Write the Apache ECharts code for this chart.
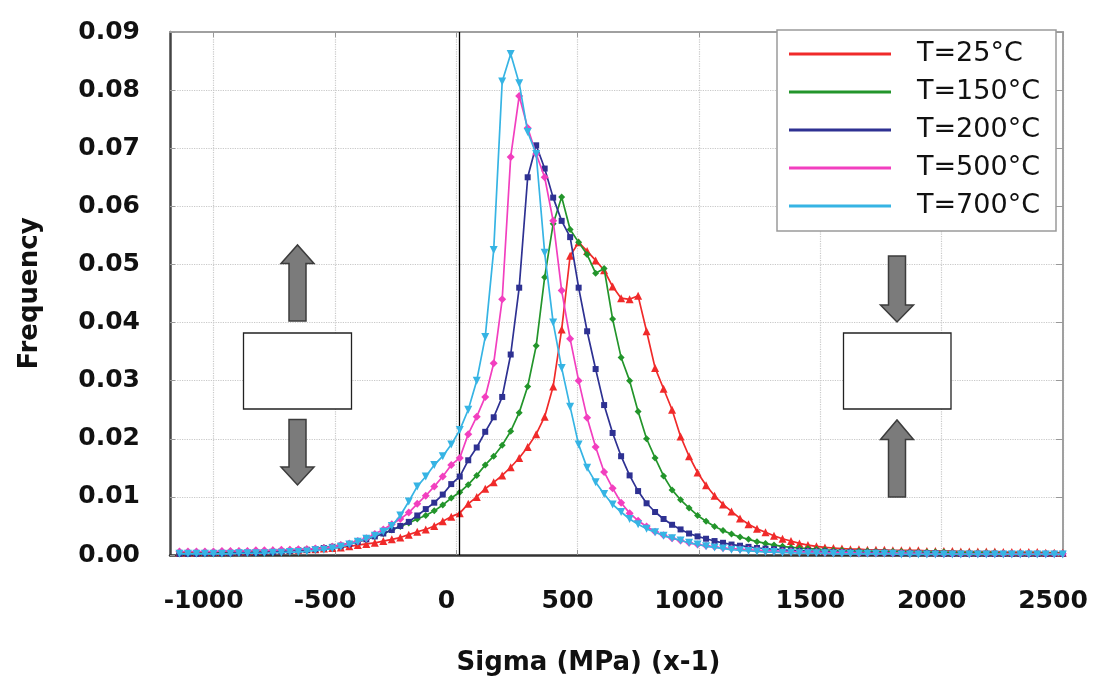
<!DOCTYPE html>
<html><head><meta charset="utf-8">
<script src="https://cdn.jsdelivr.net/npm/echarts@6/dist/echarts.min.js"></script>
<style>html,body{margin:0;padding:0;background:#fff}#c{width:1097px;height:697px}</style>
</head><body><div id="c"></div>
<script>
// bin centres (MPa, x -1)
const sigma = [-1141,-1106,-1071,-1036,-1001,-966,-931,-896,-861,-826,-791,-756,-721,-686,-651,-616,-581,-546,-511,-476,-441,-406,-371,-336,-301,-266,-231,-196,-161,-126,-91,-56,-21,
14,49,84,119,154,189,224,259,294,329,364,399,434,469,504,539,574,609,644,679,714,749,784,819,854,889,924,959,994,1029,1064,
1099,1134,1169,1204,1239,1274,1309,1344,1379,1414,1449,1484,1519,1554,1589,1624,1659,1694,1729,1764,1799,1834,1869,1904,1939,1974,2009,2044,2079,2114,2149,2184,2219,2254,2289,2324,2359,2394,2429,2464,2499];

const seriesNames = ['T=25°C','T=150°C','T=200°C','T=500°C','T=700°C'];

const freqT25 = [0.0004,0.0004,0.0004,0.0005,0.0005,0.0005,0.0006,0.0006,0.0006,0.0007,0.0007,0.0008,0.0008,0.0009,0.0009,0.0010,0.0010,0.0011,
0.0012,0.0013,0.0015,0.0017,0.0019,0.0021,0.0024,0.0027,0.0030,0.0035,0.0040,0.0044,0.0050,0.0058,0.0066,
0.0072,0.0088,0.0100,0.0114,0.0125,0.0137,0.0151,0.0167,0.0186,0.0208,0.0238,0.0290,0.0388,0.0515,0.0538,0.0523,0.0507,0.0490,0.0462,0.0442,0.0440,0.0446,0.0385,0.0322,0.0286,0.0250,0.0204,0.0170,0.0142,0.0120,0.0102,
0.0087,0.0075,0.0063,0.0053,0.0045,0.0039,0.0033,0.0028,0.0024,0.0020,0.0017,0.0015,0.0013,0.0012,0.0011,0.0010,0.0010,0.0009,0.0009,0.0009,0.0008,0.0008,0.0008,0.0008,0.0007,0.0007,0.0007,0.0007,0.0006,0.0006,0.0006,0.0006,0.0006,0.0005,0.0005,0.0005,0.0005,0.0005,0.0004,0.0004,0.0004];

const freqT150 = [0.0003,0.0003,0.0003,0.0004,0.0004,0.0004,0.0005,0.0005,0.0005,0.0006,0.0006,0.0007,0.0007,0.0008,0.0009,0.0010,0.0011,0.0013,
0.0015,0.0017,0.0020,0.0023,0.0027,0.0032,0.0037,0.0043,0.0049,0.0055,0.0062,0.0068,0.0076,0.0086,0.0098,
0.0108,0.0121,0.0137,0.0155,0.0170,0.0189,0.0213,0.0245,0.0290,0.0360,0.0478,0.0570,0.0616,0.0560,0.0538,0.0517,0.0485,0.0493,0.0406,0.0340,0.0300,0.0247,0.0200,0.0167,0.0136,0.0112,0.0095,0.0081,0.0068,0.0058,0.0049,
0.0042,0.0036,0.0031,0.0027,0.0023,0.0020,0.0017,0.0015,0.0013,0.0012,0.0011,0.0010,0.0009,0.0008,0.0008,0.0007,0.0007,0.0007,0.0006,0.0006,0.0006,0.0006,0.0005,0.0005,0.0005,0.0005,0.0005,0.0004,0.0004,0.0004,0.0004,0.0004,0.0004,0.0003,0.0003,0.0003,0.0003,0.0003,0.0003,0.0003,0.0003];

const freqT200 = [0.0002,0.0002,0.0002,0.0003,0.0003,0.0003,0.0003,0.0004,0.0004,0.0004,0.0005,0.0005,0.0006,0.0007,0.0008,0.0009,0.0010,0.0012,
0.0014,0.0016,0.0019,0.0023,0.0027,0.0032,0.0037,0.0043,0.0050,0.0057,0.0068,0.0079,0.0090,0.0104,0.0122,
0.0135,0.0163,0.0185,0.0212,0.0237,0.0272,0.0345,0.0460,0.0650,0.0705,0.0665,0.0615,0.0575,0.0547,0.0460,0.0385,0.0320,0.0258,0.0210,0.0170,0.0137,0.0110,0.0089,0.0074,0.0062,0.0052,0.0044,0.0037,0.0032,0.0028,0.0024,
0.0021,0.0018,0.0016,0.0014,0.0012,0.0011,0.0010,0.0009,0.0008,0.0007,0.0007,0.0006,0.0006,0.0005,0.0005,0.0005,0.0004,0.0004,0.0004,0.0004,0.0003,0.0003,0.0003,0.0003,0.0003,0.0003,0.0002,0.0002,0.0002,0.0002,0.0002,0.0002,0.0002,0.0002,0.0002,0.0002,0.0002,0.0002,0.0002,0.0002,0.0002];

const freqT500 = [0.0006,0.0006,0.0006,0.0006,0.0006,0.0007,0.0007,0.0007,0.0007,0.0008,0.0008,0.0008,0.0009,0.0009,0.0010,0.0010,0.0011,0.0012,
0.0014,0.0017,0.0020,0.0024,0.0029,0.0036,0.0044,0.0053,0.0062,0.0073,0.0088,0.0102,0.0118,0.0135,0.0155,
0.0167,0.0208,0.0238,0.0272,0.0330,0.0440,0.0685,0.0790,0.0735,0.0690,0.0650,0.0575,0.0455,0.0372,0.0300,0.0236,0.0186,0.0143,0.0115,0.0090,0.0072,0.0059,0.0049,0.0040,0.0034,0.0029,0.0025,0.0021,0.0018,0.0016,0.0014,
0.0012,0.0011,0.0010,0.0009,0.0008,0.0007,0.0007,0.0006,0.0006,0.0005,0.0005,0.0005,0.0004,0.0004,0.0004,0.0004,0.0003,0.0003,0.0003,0.0003,0.0003,0.0003,0.0003,0.0003,0.0002,0.0002,0.0002,0.0002,0.0002,0.0002,0.0002,0.0002,0.0002,0.0002,0.0002,0.0002,0.0002,0.0002,0.0002,0.0002,0.0002];

const freqT700 = [0.0002,0.0002,0.0002,0.0002,0.0002,0.0002,0.0002,0.0003,0.0003,0.0003,0.0003,0.0004,0.0004,0.0005,0.0005,0.0006,0.0008,0.0009,
0.0011,0.0014,0.0018,0.0023,0.0028,0.0033,0.0040,0.0050,0.0068,0.0092,0.0118,0.0135,0.0155,0.0170,0.0190,
0.0215,0.0250,0.0300,0.0375,0.0525,0.0815,0.0862,0.0812,0.0728,0.0690,0.0520,0.0400,0.0322,0.0255,0.0190,0.0150,0.0125,0.0105,0.0087,0.0074,0.0062,0.0053,0.0045,0.0039,0.0033,0.0029,0.0025,0.0021,0.0018,0.0015,0.0013,
0.0011,0.0009,0.0008,0.0007,0.0006,0.0005,0.0005,0.0004,0.0004,0.0003,0.0003,0.0003,0.0003,0.0002,0.0002,0.0002,0.0002,0.0002,0.0002,0.0002,0.0002,0.0001,0.0001,0.0001,0.0001,0.0001,0.0001,0.0001,0.0001,0.0001,0.0001,0.0001,0.0001,0.0001,0.0001,0.0001,0.0001,0.0001,0.0001,0.0001,0.0001];

const xTickValues = [-1000,-500,0,500,1000,1500,2000,2500];
const zeroLine = 10;

const freqs = [freqT25, freqT150, freqT200, freqT500, freqT700];
const colors = ['#f02a2a','#23952b','#2e3192','#f23fbf','#36b4e4'];
const symbols = ['triangle','diamond','rect','diamond','triangle'];
const symRot = [0,0,0,0,180];
const symSize = [8,7,6,8,8];

const chart = echarts.init(document.getElementById('c'), null, {renderer:'canvas'});
const FONT = 'DejaVu Sans';

const series = freqs.map((f, i) => ({
  name: seriesNames[i],
  type: 'line',
  data: sigma.map((x, j) => [x, f[j]]),
  symbol: symbols[i],
  symbolRotate: symRot[i],
  symbolSize: symSize[i],
  showAllSymbol: true,
  lineStyle: {color: colors[i], width: 1.7},
  itemStyle: {color: colors[i]},
  z: 3 + i,
  animation: false,
  markLine: i === 4 ? {
    silent: true, symbol: ['none','none'], label: {show:false},
    lineStyle: {color:'#000', width: 1.3, type:'solid'},
    data: [{xAxis: zeroLine}]
  } : undefined
}));

function arrowUp(cx, tipY, baseY, bottomY) {
  return [[cx-16.5,baseY],[cx,tipY],[cx+16.5,baseY],[cx+8.5,baseY],[cx+8.5,bottomY],[cx-8.5,bottomY],[cx-8.5,baseY]];
}
function arrowDown(cx, tipY, baseY, topY) {
  return [[cx-16.5,baseY],[cx,tipY],[cx+16.5,baseY],[cx+8.5,baseY],[cx+8.5,topY],[cx-8.5,topY],[cx-8.5,baseY]];
}
const arrowStyle = {fill:'#7b7b7b', stroke:'#3c3c3c', lineWidth:1.5};
const boxStyle = {fill:'#fff', stroke:'#222', lineWidth:1.3};

chart.setOption({
  animation: false,
  backgroundColor: '#fff',
  grid: {left:170, right:34, top:32, bottom:142, containLabel:false},
  legend: {
    show: true, orient:'vertical', left:777, top:30,
    data: seriesNames, icon:'rect', itemWidth:102, itemHeight:3, itemGap:10,
    padding:[10,16,11,12],
    backgroundColor:'#fff', borderColor:'#9a9a9a', borderWidth:1.5,
    textStyle:{fontFamily:FONT, fontSize:27, color:'#111', lineHeight:28, padding:[0,0,0,21]},
    selectedMode:false, z: 20
  },
  xAxis: [{
    type:'value', min:-1180, max:2500,
    axisLine:{show:true, onZero:false, lineStyle:{color:'#333', width:2.5}},
    axisTick:{show:true, inside:true, length:5, customValues:xTickValues, lineStyle:{color:'#999'}},
    axisLabel:{customValues:xTickValues, formatter: v => String(v), fontFamily:FONT, fontWeight:'bold', fontSize:25, color:'#111', margin:34, padding:[0,20,0,0]},
    splitLine:{show:true, lineStyle:{color:'#c9c9c9', type:'dotted', width:1.2}},
    name:'Sigma (MPa) (x-1)', nameLocation:'middle', nameGap:95,
    nameTextStyle:{fontFamily:FONT, fontWeight:'bold', fontSize:26, color:'#111', padding:[0,56,0,0]}
  },{
    type:'value', min:-1180, max:2500, position:'top',
    axisLine:{show:true, onZero:false, lineStyle:{color:'#a0a0a0', width:2}},
    axisTick:{show:true, inside:true, length:5, customValues:xTickValues, lineStyle:{color:'#999'}},
    axisLabel:{show:false}, splitLine:{show:false}
  }],
  yAxis: [{
    type:'value', min:0, max:0.09, interval:0.01,
    axisLine:{show:true, onZero:false, lineStyle:{color:'#444', width:2.5}},
    axisTick:{show:true, inside:true, length:5, lineStyle:{color:'#999'}},
    axisLabel:{fontFamily:FONT, fontWeight:'bold', fontSize:25, color:'#111', margin:30,
      formatter: v => v.toFixed(2)},
    splitLine:{show:true, lineStyle:{color:'#c9c9c9', type:'dotted', width:1.2}},
    name:'Frequency', nameLocation:'middle', nameGap:127, nameRotate:90,
    nameTextStyle:{fontFamily:FONT, fontWeight:'bold', fontSize:26, color:'#111'}
  },{
    type:'value', min:0, max:0.09, interval:0.01, position:'right',
    axisLine:{show:true, onZero:false, lineStyle:{color:'#a0a0a0', width:2}},
    axisTick:{show:true, inside:true, length:7, lineStyle:{color:'#999'}},
    axisLabel:{show:false}, splitLine:{show:false}
  }],
  series: series,
  graphic: [
    {type:'polygon', z:50, shape:{points: arrowUp(297.5, 245, 263.5, 321)}, style: arrowStyle},
    {type:'rect', z:50, shape:{x:243.5, y:333, width:108, height:76}, style: boxStyle},
    {type:'polygon', z:50, shape:{points: arrowDown(297.5, 485, 467, 419.5)}, style: arrowStyle},
    {type:'polygon', z:50, shape:{points: arrowDown(897, 322, 305, 256)}, style: arrowStyle},
    {type:'rect', z:50, shape:{x:843.5, y:333, width:107.5, height:76}, style: boxStyle},
    {type:'polygon', z:50, shape:{points: arrowUp(897, 420, 439.5, 497)}, style: arrowStyle}
  ]
});
</script></body></html>
